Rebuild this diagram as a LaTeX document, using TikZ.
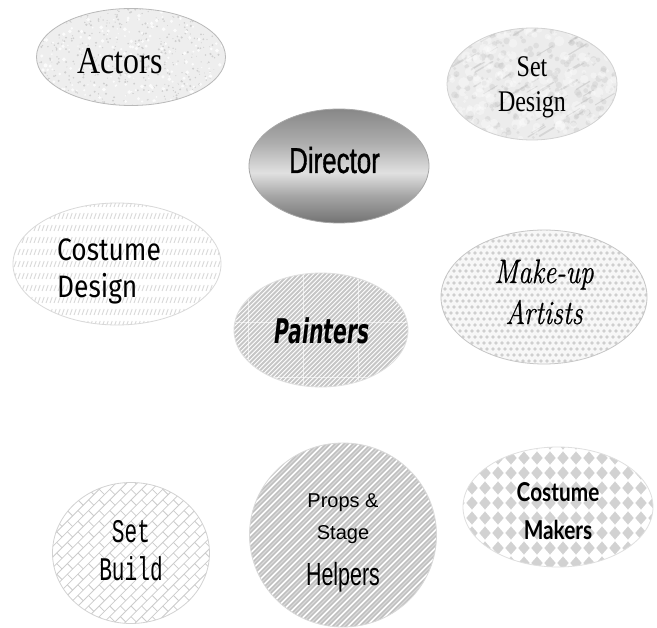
\documentclass[tikz,border=0pt]{standalone}
\usepackage{fontspec}
\usetikzlibrary{shapes.geometric}
\newfontfamily\fActors{Liberation Serif}[FakeStretch=0.84]
\newfontfamily\fSetD{Liberation Serif}[FakeStretch=0.8]
\newfontfamily\fDirector{Liberation Sans}[FakeStretch=0.72,FakeBold=0.9]
\newfontfamily\fCosD{Fira Sans}[FakeStretch=0.85]
\newfontfamily\fPaint{DejaVu Sans}[FakeStretch=0.6]
\newfontfamily\fMake{Latin Modern Roman}[FakeStretch=0.8,FakeBold=0.6]
\newfontfamily\fBuild{Liberation Mono}[FakeStretch=0.64]
\newfontfamily\fProps{Liberation Sans}
\newfontfamily\fHelp{Liberation Sans}[FakeStretch=0.67]
\newfontfamily\fCosM{Lato}[FakeStretch=0.8]
\pgfdeclareverticalshading{dirshade}{100bp}{color(0bp)=(black!55);
 color(25bp)=(black!55); color(37bp)=(black!35); color(47bp)=(black!12);
 color(60bp)=(black!32); color(75bp)=(black!47); color(100bp)=(black!47)}
\tikzset{
 bubble/.style={ellipse, draw=#1, line width=0.8pt, inner sep=0pt},
 bubble/.default={gray!40},
 lbl/.style={inner sep=0pt, text=black}
}
\begin{document}
\begin{tikzpicture}[x=1pt,y=-1pt]
\useasboundingbox (0,0) rectangle (657,628);
\fill[white] (0,0) rectangle (657,628);

% ---------- Actors: speckled paper
\begin{scope}
\clip (131,57) ellipse [x radius=94.5, y radius=48.5];
\fill[gray!13] (30,0) rectangle (232,112);
\pgfmathsetseed{3}
\foreach \i in {1,...,500}{
 \pgfmathsetmacro\px{131+96*rand}
 \pgfmathsetmacro\py{57+50*rand}
 \pgfmathsetmacro\pr{0.4+0.8*rnd}
 \fill[gray!38] (\px,\py) circle [radius=\pr];
}
\foreach \i in {1,...,250}{
 \pgfmathsetmacro\px{131+96*rand}
 \pgfmathsetmacro\py{57+50*rand}
 \pgfmathsetmacro\pr{0.6+1.4*rnd}
 \fill[white,opacity=0.8] (\px,\py) circle [radius=\pr];
}
\end{scope}
\node[bubble=gray!55, minimum width=189pt, minimum height=97pt] (actors) at (131,57) {};
\node[lbl, anchor=base, font=\fActors\fontsize{38}{38}\selectfont] (actorsT) at (120,74) {Actors};

% ---------- Set Design: marble
\begin{scope}
\clip (532,84) ellipse [x radius=85, y radius=56];
\fill[gray!15] (440,20) rectangle (625,150);
\pgfmathsetseed{11}
\foreach \i in {1,...,300}{
 \pgfmathsetmacro\px{532+85*rand}
 \pgfmathsetmacro\py{84+56*rand}
 \pgfmathsetmacro\pr{1+2.5*rnd}
 \fill[gray!45,opacity=0.35] (\px,\py) circle [radius=\pr];
}
\foreach \i in {1,...,50}{
 \pgfmathsetmacro\px{532+85*rand}
 \pgfmathsetmacro\py{84+56*rand}
 \pgfmathsetmacro\pl{6+14*rnd}
 \pgfmathsetmacro\pw{0.5+1.5*rnd}
 \draw[gray!55, opacity=0.45, line width=\pw, line cap=round] (\px,\py) -- ++(\pl,-0.6*\pl);
}
\foreach \i in {1,...,200}{
 \pgfmathsetmacro\px{532+85*rand}
 \pgfmathsetmacro\py{84+56*rand}
 \pgfmathsetmacro\pr{1.5+4*rnd}
 \fill[white,opacity=0.35] (\px,\py) circle [radius=\pr];
}
\end{scope}
\node[bubble=gray!35, minimum width=170pt, minimum height=112pt] (setd) at (532,84) {};
\node[lbl, anchor=base, align=center, font=\fSetD\fontsize{30}{35}\selectfont] (setdT) at (532,112) {Set\\Design};

% ---------- Director: metallic gradient
\node[bubble=gray!70, shading=dirshade, minimum width=180pt, minimum height=114pt] (director) at (339,166) {};
\node[lbl, anchor=base, font=\fDirector\fontsize{36}{36}\selectfont] (directorT) at (334.5,173) {Director};

% ---------- Costume Design: rows of short hatches
\begin{scope}
\clip (117,264) ellipse [x radius=104, y radius=61];
\foreach \y in {204,216,...,330}{
 \foreach \x in {10,14,...,226}{
  \draw[gray!30, line width=0.9pt] (\x,\y+3) -- (\x+2.2,\y-3);
 }
}
\end{scope}
\node[bubble=gray!30, minimum width=208pt, minimum height=122pt] (cosd) at (117,264) {};
\node[lbl, anchor=base west, align=left, font=\fCosD\fontsize{31}{37}\selectfont] (cosdT) at (57,298) {Costume\\Design};

% ---------- Painters: fine diagonal stripes
\begin{scope}
\clip (321,330) ellipse [x radius=87, y radius=57];
\fill[white] (230,270) rectangle (412,390);
\foreach \x in {90,94.5,...,420}{
 \draw[gray!45, line width=2pt] (\x,392) -- (\x+125,267);
}
\foreach \x in {248,303,358}{ \draw[white, opacity=0.6, line width=0.8pt] (\x,270) -- (\x,390); }
\foreach \y in {268,322,377}{ \draw[white, opacity=0.6, line width=0.8pt] (230,\y) -- (412,\y); }
\end{scope}
\node[bubble=gray!25, minimum width=174pt, minimum height=114pt] (painters) at (321,330) {};
\node[lbl, anchor=base, font=\fPaint\fontsize{34}{34}\selectfont\bfseries\itshape] (paintersT) at (322,344) {Painters};

% ---------- Make-up Artists: dots
\begin{scope}
\clip (544,297) ellipse [x radius=103, y radius=67];
\fill[gray!6] (440,228) rectangle (648,366);
\foreach \j in {0,...,23}{
 \foreach \i in {0,...,35}{
  \pgfmathsetmacro\px{439+\i*6+mod(\j,2)*3}
  \fill[gray!38] (\px,229+\j*6) circle [radius=1.9];
 }
}
\end{scope}
\node[bubble=gray!45, minimum width=206pt, minimum height=134pt] (makeup) at (544,297) {};
\node[lbl, anchor=base, align=center, font=\fMake\fontsize{34}{41}\selectfont\itshape] (makeupT) at (544,324) {Make-up\\Artists};

% ---------- Set Build: diagonal brick weave
\begin{scope}
\clip (131,553) ellipse [x radius=78.5, y radius=70.5];
\begin{scope}[shift={(131,553)}, rotate=45]
\foreach \k in {-15,...,15}{
 \draw[gray!40, line width=0.8pt] (-120,\k*7.5) -- (120,\k*7.5);
}
\foreach \k in {-15,...,14}{
 \foreach \j in {-8,...,8}{
  \pgfmathsetmacro\ux{\j*15+mod(\k+20,2)*7.5}
  \draw[gray!40, line width=0.8pt] (\ux,\k*7.5) -- ++(0,7.5);
 }
}
\end{scope}
\end{scope}
\node[bubble=gray!35, minimum width=157pt, minimum height=141pt] (setb) at (131,553) {};
\node[lbl, anchor=base, align=center, font=\fBuild\fontsize{33}{39}\selectfont] (setbT) at (131,581) {Set\\Build};

% ---------- Props & Stage Helpers: wide diagonal stripes
\begin{scope}
\clip (343,535) ellipse [x radius=93.5, y radius=92];
\foreach \x in {50,59,...,460}{
 \draw[gray!50, line width=4.5pt] (\x,632) -- (\x+195,437);
 \draw[gray!30, line width=1.2pt] (\x,632) -- (\x+195,437);
}
\end{scope}
\node[bubble=gray!30, minimum width=187pt, minimum height=184pt] (props) at (343,535) {};
\node[lbl, anchor=base, align=center, font=\fProps\fontsize{20}{32}\selectfont] (propsT) at (343,586) {Props \&\\Stage\\[14pt]{\fHelp\fontsize{32}{32}\selectfont Helpers}};

% ---------- Costume Makers: harlequin diamonds
\begin{scope}
\clip (558,507) ellipse [x radius=95, y radius=60];
\foreach \j in {0,...,9}{
 \foreach \i in {0,...,16}{
  \pgfmathsetmacro\px{459+\i*13}
  \pgfmathsetmacro\py{443+\j*15}
  \fill[gray!35] (\px,\py-6.6) -- (\px+5.7,\py) -- (\px,\py+6.6) -- (\px-5.7,\py) -- cycle;
 }
}
\end{scope}
\node[bubble=gray!25, minimum width=190pt, minimum height=120pt] (cosm) at (558,507) {};
\node[lbl, anchor=base, align=center, font=\fCosM\fontsize{26}{38}\selectfont\bfseries] (cosmT) at (558,540) {Costume\\Makers};
\end{tikzpicture}
\end{document}
